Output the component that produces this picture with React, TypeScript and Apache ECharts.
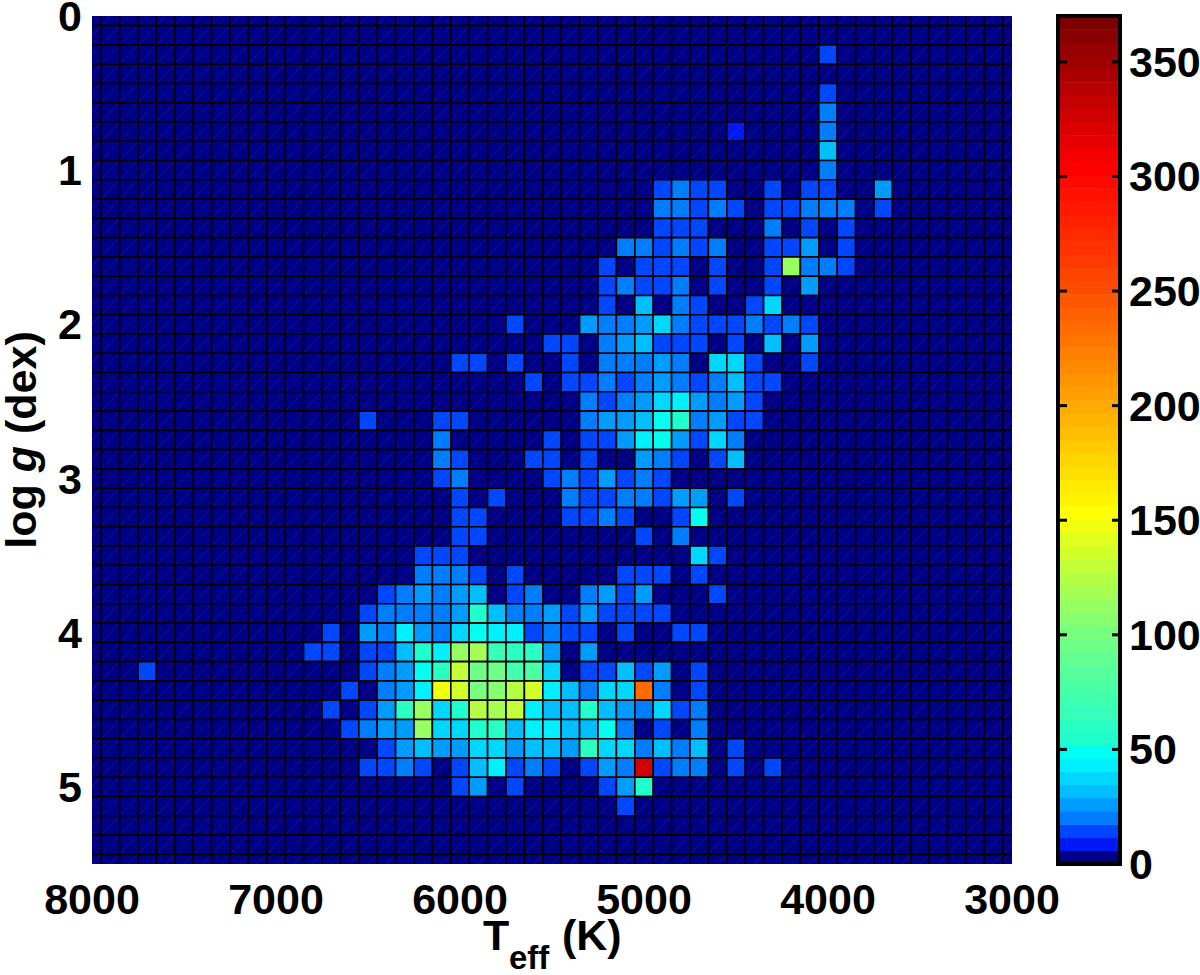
import React, { useEffect, useRef } from "react";
import * as echarts from "echarts";

// Bin centres
const teffColumns: number[] = [];
for (let t = 8000; t >= 3000; t -= 100) teffColumns.push(t);
const rowStep = 0.125;
const rowCount = 45;

// Populated bins per row as flat pairs: teff, count. Row index * 0.125 = log g.
const r02 = [4000, 12];
const r04 = [4000, 12];
const r05 = [4000, 20];
const r06 = [4000, 20, 4500, 10];
const r07 = [4000, 32];
const r08 = [4000, 22];
const r09 = [4900, 14, 4800, 22, 4700, 14, 4600, 14, 4300, 14, 4100, 14, 4000, 12, 3700, 26];
const r10 = [4900, 20, 4800, 23, 4700, 14, 4600, 20, 4500, 14, 4300, 14, 4200, 14, 4100, 20, 4000, 23, 3900, 20, 3700, 12];
const r11 = [4900, 14, 4800, 14, 4700, 14, 4300, 20, 4100, 14, 3900, 14];
const r12 = [5100, 20, 5000, 20, 4900, 14, 4800, 20, 4700, 14, 4600, 20, 4300, 14, 4200, 14, 4100, 26, 3900, 14];
const r13 = [5200, 14, 5000, 14, 4900, 14, 4800, 14, 4600, 14, 4300, 14, 4200, 113, 4100, 20, 4000, 20, 3900, 14];
const r14 = [5200, 14, 5100, 20, 5000, 14, 4900, 14, 4800, 20, 4600, 14, 4300, 14, 4100, 26];
const r15 = [5200, 14, 5000, 32, 4800, 23, 4700, 14, 4400, 14, 4300, 35];
const r16 = [5700, 14, 5300, 26, 5200, 20, 5100, 23, 5000, 26, 4900, 38, 4800, 20, 4700, 14, 4600, 14, 4500, 14, 4400, 20, 4300, 14, 4200, 20, 4100, 14];
const r17 = [5500, 14, 5400, 14, 5200, 20, 5100, 26, 5000, 32, 4900, 14, 4800, 14, 4700, 14, 4500, 14, 4300, 32, 4100, 26];
const r18 = [6000, 14, 5900, 14, 5700, 14, 5400, 14, 5200, 20, 5100, 20, 5000, 20, 4900, 26, 4800, 20, 4600, 35, 4500, 38, 4400, 14, 4100, 14];
const r19 = [5600, 14, 5400, 14, 5300, 14, 5200, 20, 5100, 14, 5000, 20, 4900, 26, 4800, 20, 4700, 14, 4600, 20, 4500, 29, 4400, 14, 4300, 14];
const r20 = [5300, 20, 5200, 14, 5100, 20, 5000, 26, 4900, 38, 4800, 46, 4700, 26, 4600, 20, 4500, 26, 4400, 14];
const r21 = [6500, 14, 6100, 14, 6000, 14, 5300, 23, 5200, 26, 5100, 26, 5000, 32, 4900, 49, 4800, 55, 4700, 20, 4600, 26, 4500, 14, 4400, 14];
const r22 = [6100, 20, 5500, 14, 5300, 14, 5200, 14, 5100, 26, 5000, 46, 4900, 49, 4800, 26, 4700, 14, 4600, 38, 4500, 20];
const r23 = [6100, 23, 6000, 14, 5600, 14, 5500, 14, 5300, 14, 5000, 26, 4900, 20, 4800, 14, 4600, 14, 4500, 32];
const r24 = [6100, 14, 6000, 23, 5500, 14, 5400, 20, 5300, 14, 5200, 26, 5100, 14, 5000, 20, 4900, 14];
const r25 = [6000, 14, 5800, 14, 5400, 20, 5300, 14, 5200, 14, 5100, 20, 5000, 20, 4900, 14, 4800, 26, 4700, 26, 4500, 14];
const r26 = [6000, 14, 5900, 14, 5400, 14, 5300, 14, 5200, 20, 5100, 14, 4800, 14, 4700, 49];
const r27 = [6000, 14, 5900, 14, 5000, 14, 4800, 20];
const r28 = [6200, 14, 6100, 14, 6000, 14, 4700, 40, 4600, 14];
const r29 = [6200, 23, 6100, 20, 6000, 23, 5900, 14, 5700, 14, 5100, 14, 5000, 14, 4900, 14, 4700, 14];
const r30 = [6400, 14, 6300, 20, 6200, 26, 6100, 20, 6000, 26, 5900, 32, 5700, 14, 5600, 20, 5300, 23, 5200, 26, 5100, 14, 5000, 26, 4600, 14];
const r31 = [6500, 14, 6400, 20, 6300, 20, 6200, 20, 6100, 20, 6000, 26, 5900, 55, 5800, 29, 5700, 23, 5600, 23, 5500, 26, 5400, 14, 5300, 26, 5200, 14, 5100, 14, 5000, 14, 4900, 14];
const r32 = [6700, 14, 6500, 26, 6400, 20, 6300, 43, 6200, 26, 6100, 23, 6000, 35, 5900, 52, 5800, 43, 5700, 43, 5600, 14, 5500, 20, 5400, 14, 5300, 14, 5100, 14, 4800, 14, 4700, 14];
const r33 = [6800, 14, 6700, 14, 6500, 14, 6400, 14, 6300, 29, 6200, 55, 6100, 43, 6000, 113, 5900, 118, 5800, 66, 5700, 61, 5600, 61, 5500, 26, 5300, 26];
const r34 = [7700, 14, 6500, 14, 6400, 20, 6300, 26, 6200, 49, 6100, 61, 6000, 130, 5900, 95, 5800, 95, 5700, 72, 5600, 78, 5500, 38, 5300, 14, 5200, 14, 5100, 29, 5000, 14, 4900, 26, 4700, 14];
const r35 = [6600, 14, 6400, 20, 6300, 26, 6200, 46, 6100, 147, 6000, 135, 5900, 101, 5800, 107, 5700, 124, 5600, 135, 5500, 43, 5400, 32, 5300, 20, 5200, 38, 5100, 38, 5000, 234, 4900, 20, 4700, 14];
const r36 = [6700, 14, 6500, 14, 6400, 26, 6300, 61, 6200, 113, 6100, 38, 6000, 55, 5900, 125, 5800, 118, 5700, 130, 5600, 43, 5500, 32, 5400, 32, 5300, 55, 5200, 32, 5100, 26, 5000, 20, 4900, 38, 4800, 14, 4700, 23];
const r37 = [6600, 14, 6500, 23, 6400, 26, 6300, 26, 6200, 113, 6100, 38, 6000, 38, 5900, 55, 5800, 61, 5700, 29, 5600, 46, 5500, 46, 5400, 32, 5300, 29, 5200, 49, 5100, 20, 4900, 14, 4700, 20];
const r38 = [6400, 14, 6300, 26, 6200, 32, 6100, 26, 6000, 26, 5900, 38, 5800, 38, 5700, 26, 5600, 32, 5500, 32, 5400, 26, 5300, 58, 5200, 38, 5100, 38, 5000, 23, 4900, 32, 4800, 23, 4700, 32, 4500, 14];
const r39 = [6500, 14, 6400, 14, 6300, 23, 6200, 14, 6000, 14, 5900, 32, 5800, 43, 5700, 14, 5600, 23, 5500, 14, 5300, 14, 5200, 26, 5100, 23, 5000, 327, 4900, 14, 4800, 23, 4700, 23, 4500, 14, 4300, 14];
const r40 = [6000, 14, 5900, 26, 5700, 14, 5200, 14, 5100, 26, 5000, 55];
const r41 = [5100, 14];
const populatedRows: Record<number, number[]> = {
  2: r02, 4: r04, 5: r05, 6: r06, 7: r07, 8: r08, 9: r09, 10: r10, 11: r11, 12: r12, 13: r13, 14: r14,
  15: r15, 16: r16, 17: r17, 18: r18, 19: r19, 20: r20, 21: r21, 22: r22, 23: r23, 24: r24, 25: r25,
  26: r26, 27: r27, 28: r28, 29: r29, 30: r30, 31: r31, 32: r32, 33: r33, 34: r34, 35: r35, 36: r36,
  37: r37, 38: r38, 39: r39, 40: r40, 41: r41,
};

const colorMax = 370;
const bandCount = 64;
const colorbarTicks = [50, 100, 150, 200, 250, 300, 350];
// Colour stops: band index, r, g, b
const colorStops: number[][] = [
  [0, 0, 0, 135], [1, 0, 25, 245], [2, 0, 70, 255], [3, 0, 125, 255], [4, 0, 155, 255],
  [5, 0, 190, 255], [6, 0, 215, 255], [7, 0, 240, 255], [8, 0, 255, 240], [9, 30, 255, 205],
  [17, 120, 255, 125], [26, 255, 255, 0], [34, 255, 170, 0], [43, 255, 75, 0], [52, 255, 0, 0],
  [63, 125, 0, 0],
];

const FONT = "Liberation Sans";

function bandColor(band: number): string {
  let i = 0;
  while (i < colorStops.length - 2 && colorStops[i + 1][0] <= band) i++;
  const a = colorStops[i];
  const b = colorStops[i + 1];
  const f = Math.min(1, (band - a[0]) / (b[0] - a[0]));
  const c = [1, 2, 3].map((k) => Math.round(a[k] + (b[k] - a[k]) * f));
  return `rgb(${c[0]},${c[1]},${c[2]})`;
}
function valueColor(v: number): string {
  return bandColor(Math.min(bandCount - 1, Math.floor((v / colorMax) * bandCount)));
}

function buildCells(): number[][] {
  const cells: number[][] = [];
  for (let r = 0; r < rowCount; r++) {
    const pairs = populatedRows[r] || [];
    for (const t of teffColumns) {
      const at = pairs.findIndex((p, i) => i % 2 === 0 && p === t);
      cells.push([t, r * rowStep, at >= 0 ? pairs[at + 1] : 0]);
    }
  }
  return cells;
}

export default function App() {
  const ref = useRef<HTMLDivElement>(null);
  useEffect(() => {
    document.body.style.margin = "0";
    const chart = echarts.init(ref.current!, null, { renderer: "svg" });
    const bands = Array.from({ length: bandCount }, (_, i) => [i]);
    const tickFont = { fontFamily: FONT, fontWeight: "bold" as const, fontSize: 43, color: "#000" };
    chart.setOption({
      animation: false,
      backgroundColor: "#fff",
      grid: [
        { left: 92, top: 16, width: 920, height: 848, outerBoundsMode: "none" },
        { left: 1058, top: 16, width: 62, height: 848, outerBoundsMode: "none" },
      ],
      xAxis: [
        {
          gridIndex: 0, type: "value", inverse: true, min: 3000, max: 8000, interval: 1000,
          splitLine: { show: false }, axisLine: { show: false }, axisTick: { show: false },
          axisLabel: { ...tickFont, margin: 13, showMinLabel: true, showMaxLabel: true, hideOverlap: false,
            formatter: (v: number) => String(v) },
        },
        { gridIndex: 1, type: "value", min: 0, max: 1, show: false },
      ],
      yAxis: [
        {
          gridIndex: 0, type: "value", inverse: true, min: 0, max: 5.5, interval: 1,
          splitLine: { show: false }, axisLine: { show: false }, axisTick: { show: false },
          axisLabel: {
            ...tickFont, margin: 10, showMaxLabel: false,
            formatter: (v: number) => (Number.isInteger(v) ? String(v) : ""),
          },
          name: "log {i|g} (dex)",
          nameLocation: "middle",
          nameRotate: 90,
          nameGap: 50,
          nameTextStyle: {
            ...tickFont,
            rich: { i: { ...tickFont, fontStyle: "italic" } },
          },
        },
        {
          gridIndex: 1, type: "value", position: "right", min: 0, max: colorMax, interval: 50,
          splitLine: { show: false }, axisLine: { show: false }, axisTick: { show: false },
          axisLabel: { ...tickFont, margin: 9, showMaxLabel: false,
            formatter: (v: number) => (v % 50 === 0 ? String(v) : "") },
        },
      ],
      series: [
        {
          type: "custom",
          xAxisIndex: 0,
          yAxisIndex: 0,
          clip: true,
          silent: true,
          data: buildCells(),
          renderItem: (_p: any, api: any) => {
            const t = api.value(0);
            const g = api.value(1);
            const a = api.coord([t + 50, g - rowStep / 2]);
            const b = api.coord([t - 50, g + rowStep / 2]);
            return {
              type: "group",
              children: [
                {
                  type: "rect",
                  shape: { x: a[0], y: a[1], width: b[0] - a[0], height: b[1] - a[1] },
                  style: { fill: valueColor(api.value(2)), stroke: "#000", lineWidth: 1.6 },
                },
                {
                  type: "line",
                  shape: { x1: a[0] + 1, y1: b[1] - 1, x2: b[0] - 1, y2: a[1] + 1 },
                  style: { stroke: "rgba(255,255,255,0.14)", lineWidth: 0.6 },
                },
              ],
            };
          },
        },
        {
          type: "custom",
          xAxisIndex: 1,
          yAxisIndex: 1,
          clip: true,
          silent: true,
          z: 1,
          data: bands,
          renderItem: (_p: any, api: any) => {
            const i = api.value(0);
            const a = api.coord([0, ((i + 1) * colorMax) / bandCount]);
            const b = api.coord([1, (i * colorMax) / bandCount]);
            return {
              type: "rect",
              shape: { x: a[0], y: a[1], width: b[0] - a[0], height: b[1] - a[1] + 0.5 },
              style: { fill: bandColor(i) },
            };
          },
        },
        {
          type: "custom",
          xAxisIndex: 1,
          yAxisIndex: 1,
          silent: true,
          z: 50,
          data: colorbarTicks.map((v) => [0, v]),
          encode: { x: 0, y: 1 },
          renderItem: (_p: any, api: any) => {
            const l = api.coord([0, api.value(1)]);
            const r = api.coord([1, api.value(1)]);
            return {
              type: "group",
              children: [
                {
                  type: "rect",
                  shape: { x: l[0], y: l[1] - 1.5, width: 9, height: 3 },
                  style: { fill: "#000" },
                },
                {
                  type: "rect",
                  shape: { x: r[0] - 8, y: r[1] - 1.5, width: 8, height: 3 },
                  style: { fill: "#000" },
                },
              ],
            };
          },
        },
      ],
      graphic: [
        { type: "rect", z: 100, silent: true, shape: { x: 1058, y: 16, width: 62, height: 848 },
          style: { fill: "none", stroke: "#000", lineWidth: 4 } },
        { type: "text", z: 100, x: 483, y: 913, silent: true,
          style: { text: "T", fontFamily: FONT, fontWeight: "bold", fontSize: 43, fill: "#000" } },
        { type: "text", z: 100, x: 509, y: 941, silent: true,
          style: { text: "eff", fontFamily: FONT, fontWeight: "bold", fontSize: 33, fill: "#000" } },
        { type: "text", z: 100, x: 562, y: 913, silent: true,
          style: { text: "(K)", fontFamily: FONT, fontWeight: "bold", fontSize: 43, fill: "#000" } },
      ],
    });
    return () => chart.dispose();
  }, []);
  return <div ref={ref} style={{ position: "absolute", left: 0, top: 0, width: 1200, height: 975 }} />;
}
